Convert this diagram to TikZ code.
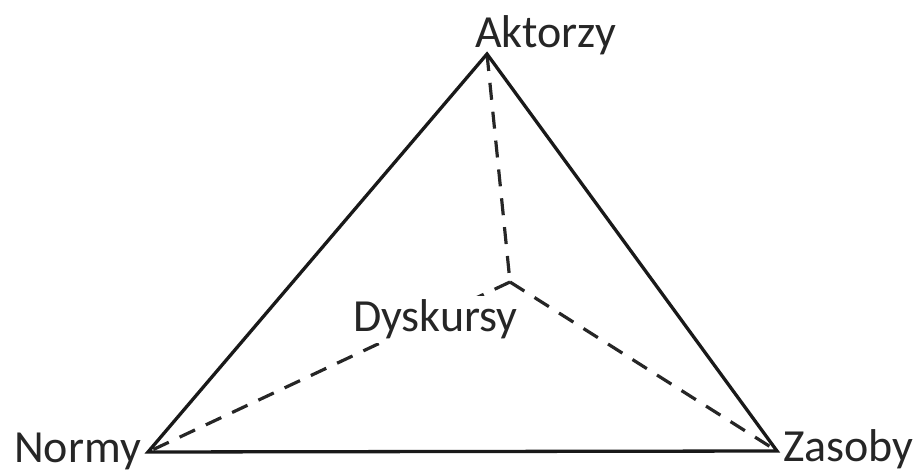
\documentclass[tikz,border=0pt]{standalone}
\usepackage{fontspec}
\setmainfont{Carlito}
\begin{document}
\begin{tikzpicture}[x=1pt,y=-1pt,
  lbl/.style={inner sep=0pt, font=\fontsize{46}{50}\selectfont, text=black!85},
  edge/.style={line width=3.3pt, draw=black!90},
  spoke/.style={line width=3.2pt, draw=black!85, dash pattern=on 17pt off 12pt}]
\useasboundingbox (0,0) rectangle (922,473);
\coordinate (A) at (487,54);
\coordinate (N) at (148,452);
\coordinate (Z) at (777,451);
\coordinate (C) at (510,282);
\draw[spoke] (A) -- (C);
\draw[spoke] (C) -- (N);
\draw[spoke] (C) -- (Z);
\draw[edge] (N) -- (A) -- (Z) -- cycle;
\node[lbl, fill=white, inner sep=4pt, anchor=base west] (D) at (349,332) {Dyskursy};
\node[lbl, anchor=base west] (AL) at (475,48) {Aktorzy};
\node[lbl, anchor=base east] (NL) at (141,462) {Normy};
\node[lbl, anchor=base west] (ZL) at (783,461) {Zasoby};
\end{tikzpicture}
\end{document}
